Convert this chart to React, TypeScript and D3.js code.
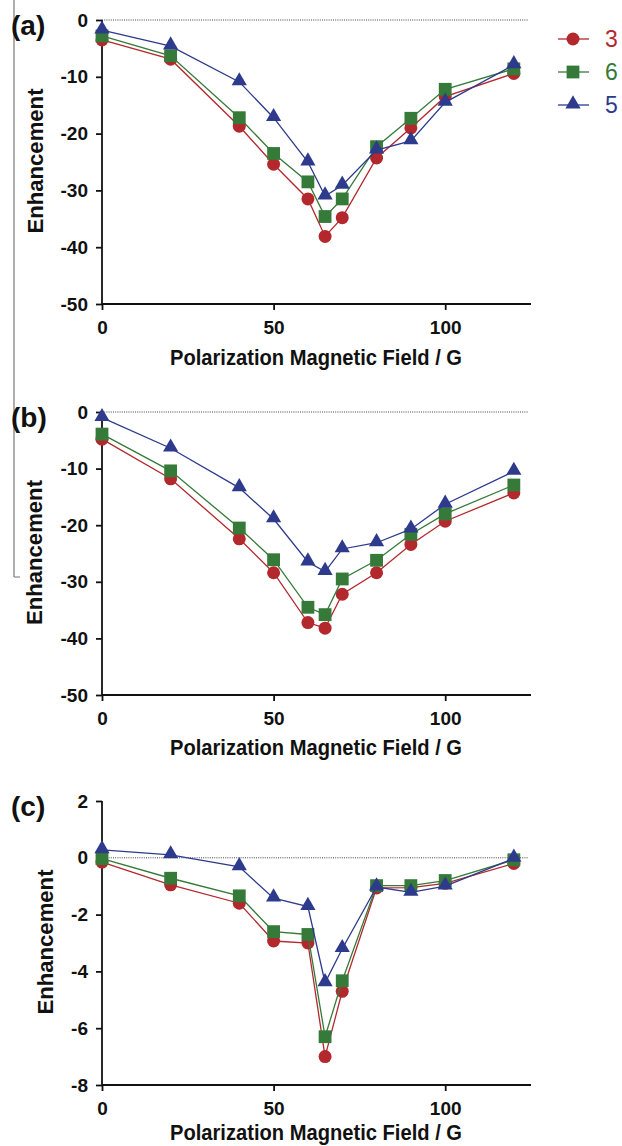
import React, { useRef, useEffect } from "react";
import * as d3 from "d3";

// field values (G)
const fields = [0, 20, 40, 50, 60, 65, 70, 80, 90, 100, 120];

const seriesNames = ["3", "6", "5"];
const seriesColors = ["#b3282d", "#357a38", "#2e3a8c"];
const seriesShapes = ["circle", "square", "triangle"];

// panel (a)
const a3 = [-3.5, -6.9, -18.7, -25.4, -31.5, -38.1, -34.8, -24.3, -19.0, -13.5, -9.4];
const a6 = [-2.8, -6.3, -17.2, -23.5, -28.5, -34.6, -31.5, -22.3, -17.3, -12.2, -8.6];
const a5 = [-1.8, -4.6, -10.9, -17.2, -25.0, -31.0, -29.1, -22.9, -21.3, -14.5, -7.9];

// panel (b)
const b3 = [-4.8, -11.8, -22.4, -28.4, -37.2, -38.2, -32.2, -28.4, -23.4, -19.3, -14.3];
const b6 = [-3.9, -10.4, -20.5, -26.1, -34.5, -35.8, -29.5, -26.2, -21.6, -18.0, -12.9];
const b5 = [-1.0, -6.4, -13.4, -18.9, -26.5, -28.2, -24.2, -23.1, -20.7, -16.3, -10.5];

// panel (c)
const c3 = [-0.15, -0.95, -1.6, -2.93, -3.0, -7.0, -4.7, -1.06, -1.05, -0.9, -0.2];
const c6 = [-0.03, -0.72, -1.34, -2.6, -2.7, -6.3, -4.33, -0.98, -0.98, -0.8, -0.07];
const c5 = [0.28, 0.1, -0.32, -1.42, -1.72, -4.4, -3.2, -1.03, -1.22, -1.0, -0.02];

const xTicks = [0, 50, 100];
const abTicks = [0, -10, -20, -30, -40, -50];
const cTicks = [2, 0, -2, -4, -6, -8];

const panels = [
  { label: "(a)", series: [a3, a6, a5], domain: [-50, 0], ticks: abTicks, top: 20, bottom: 304, titleX: 43, titleOff: 61 },
  { label: "(b)", series: [b3, b6, b5], domain: [-50, 0], ticks: abTicks, top: 412, bottom: 695, titleX: 42, titleOff: 60 },
  { label: "(c)", series: [c3, c6, c5], domain: [-8, 2], ticks: cTicks, top: 801, bottom: 1085, titleX: 53, titleOff: 55 },
];

const FONT = "'Liberation Sans', Arial, sans-serif";

export default function App() {
  const ref = useRef<SVGSVGElement>(null);

  useEffect(() => {
    const svg = d3.select(ref.current);
    svg.selectAll("*").remove();

    const x = d3.scaleLinear().domain([0, 125]).range([102, 531]);

    // stray frame line at left
    svg.append("line")
      .attr("x1", 14).attr("x2", 14).attr("y1", 0).attr("y2", 577)
      .attr("stroke", "#777").attr("stroke-width", 1.2);
    svg.append("line")
      .attr("x1", 14).attr("x2", 20).attr("y1", 577).attr("y2", 577)
      .attr("stroke", "#777").attr("stroke-width", 1);

    const drawMarker = (g: any, shape: string, cx: number, cy: number, color: string) => {
      if (shape === "circle") {
        g.append("circle").attr("cx", cx).attr("cy", cy).attr("r", 6.5).attr("fill", color);
      } else if (shape === "square") {
        g.append("rect").attr("x", cx - 6.4).attr("y", cy - 6.4)
          .attr("width", 12.8).attr("height", 12.8).attr("fill", color);
      } else {
        const sym = d3.symbol().type(d3.symbolTriangle).size(100);
        g.append("path").attr("d", sym()).attr("transform", `translate(${cx},${cy - 1})`)
          .attr("fill", color);
      }
    };

    panels.forEach((p) => {
      const y = d3.scaleLinear().domain(p.domain).range([p.bottom, p.top]);
      const g = svg.append("g");

      // zero reference
      g.append("line")
        .attr("x1", x(0)).attr("x2", 528).attr("y1", y(0)).attr("y2", y(0))
        .attr("stroke", "#444").attr("stroke-width", 1).attr("stroke-dasharray", "1,1.2");

      // y axis
      const yAxis = g.append("g").attr("transform", `translate(${x(0)},0)`)
        .call(d3.axisLeft(y).tickValues(p.ticks).tickSize(6).tickPadding(8).tickFormat(d3.format("d")));
      // x axis
      const xAxis = g.append("g").attr("transform", `translate(0,${p.bottom})`)
        .call(d3.axisBottom(x).tickValues(xTicks).tickSize(6).tickPadding(11));
      [yAxis, xAxis].forEach((ax) => {
        ax.select(".domain").attr("stroke", "#111").attr("stroke-width", 1.8);
        ax.selectAll(".tick line").attr("stroke", "#111").attr("stroke-width", 1.8);
        ax.selectAll("text").attr("fill", "#111").attr("font-family", FONT)
          .attr("font-weight", "bold").attr("font-size", 19);
      });
      yAxis.select(".domain").attr("d", `M0,${p.bottom}V${p.top}`);
      yAxis.selectAll(".tick text").text((d: any) => (d < 0 ? "-" + Math.abs(d) : String(d)));
      xAxis.select(".domain").attr("d", `M${x(0)},0H${x(125)}`);

      // series, drawn 3 then 6 then 5 so blue is on top
      p.series.forEach((vals, si) => {
        const pts = fields.map((f, i) => [x(f), y(vals[i])] as [number, number]);
        g.append("path").attr("d", d3.line()(pts)).attr("fill", "none")
          .attr("stroke", seriesColors[si]).attr("stroke-width", 1.3);
        pts.forEach(([cx, cy]) => drawMarker(g, seriesShapes[si], cx, cy, seriesColors[si]));
      });

      // panel label
      g.append("text").attr("x", 11).attr("y", p.top + 15)
        .attr("font-family", FONT).attr("font-weight", "bold").attr("font-size", 28)
        .attr("fill", "#111").text(p.label);

      // y title
      const cy = (p.top + p.bottom) / 2 - 1;
      g.append("text").attr("transform", `translate(${p.titleX},${cy}) rotate(-90)`)
        .attr("text-anchor", "middle").attr("font-family", FONT).attr("font-weight", "bold")
        .attr("font-size", 22).attr("fill", "#111")
        .attr("textLength", 145).attr("lengthAdjust", "spacingAndGlyphs")
        .text("Enhancement");

      // x title
      g.append("text").attr("x", 316).attr("y", p.bottom + p.titleOff)
        .attr("text-anchor", "middle").attr("font-family", FONT).attr("font-weight", "bold")
        .attr("font-size", 22).attr("fill", "#111")
        .attr("textLength", 292).attr("lengthAdjust", "spacingAndGlyphs")
        .text("Polarization Magnetic Field / G");
    });

    // legend
    const lg = svg.append("g");
    seriesNames.forEach((name, i) => {
      const ly = 39 + i * 33;
      lg.append("line").attr("x1", 558).attr("x2", 589).attr("y1", ly).attr("y2", ly)
        .attr("stroke", seriesColors[i]).attr("stroke-width", 1.3);
      drawMarker(lg, seriesShapes[i], 573, ly, seriesColors[i]);
      lg.append("text").attr("x", 605).attr("y", ly + 8).attr("font-family", FONT)
        .attr("font-size", 23).attr("fill", seriesColors[i]).text(name);
    });
  }, []);

  return (
    <svg
      ref={ref}
      width={622}
      height={1146}
      style={{ position: "absolute", left: 0, top: 0, background: "#fff" }}
    />
  );
}
